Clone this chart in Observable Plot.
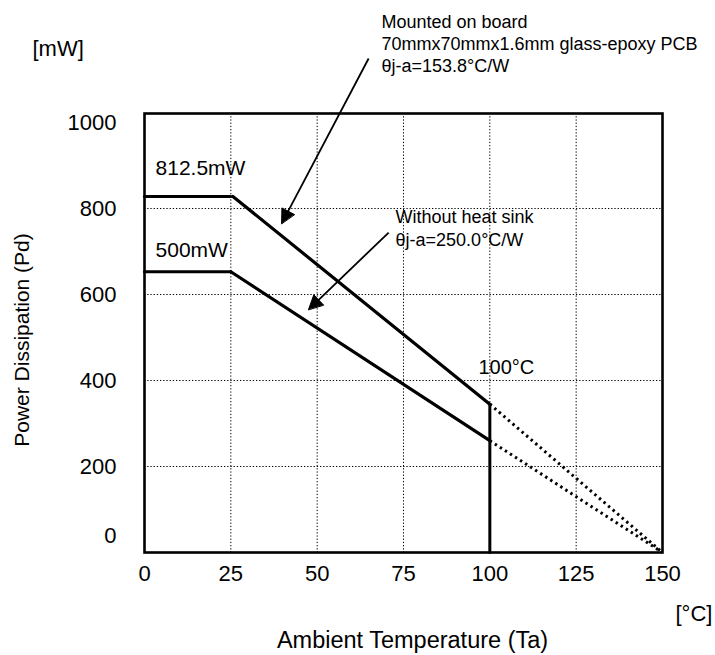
<!DOCTYPE html>
<html><head><meta charset="utf-8">
<script src="https://cdn.jsdelivr.net/npm/d3@7"></script>
<script src="https://cdn.jsdelivr.net/npm/@observablehq/plot@0.6"></script>
<style>body{margin:0;background:#fff}</style>
</head><body><div id="chart"></div>
<script>
// ---- data ----
const xTicks = [0, 25, 50, 75, 100, 125, 150];
const yTicks = [200, 400, 600, 800, 1000];
const yZeroTick = [0];
const gridX = [25, 50, 75, 100, 125];
const gridY = [200, 400, 600, 800];

// Mounted on board curve (solid + dotted extension)
const boardFlatTa = [0, 25];       const boardFlatPd = [828, 828];
const boardSlopeTa = [25.6, 100];  const boardSlopePd = [828, 345];
const boardDotTa = [100, 150];     const boardDotPd = [345, 0];
// Without heat sink curve
const bareFlatTa = [0, 25];        const bareFlatPd = [653, 653];
const bareSlopeTa = [25, 100];     const bareSlopePd = [653, 260];
const bareDotTa = [100, 150];      const bareDotPd = [260, 0];
// 100°C limit line
const limitTa = [100, 100];        const limitPd = [0, 345];

// annotation arrows: [x1, y1, x2(tip), y2(tip)]
const arrowBoard = [64.9, 1149, 39.7, 765];
const arrowBare = [70.7, 744, 47.5, 565];

// ---- layout ----
const W = 715, H = 655, mL = 144, mR = 53, mT = 113, mB = 103;
const xDomain = [0, 150], yDomain = [0, 1021];
const kx = (W - mL - mR) / (xDomain[1] - xDomain[0]);
const ky = (H - mT - mB) / (yDomain[1] - yDomain[0]);

const pts = (xs, ys) => xs.map((x, i) => ({x, y: ys[i]}));

function headPoly(a, len, wid, id) {
  const [x1, y1, x2, y2] = a;
  const dx = (x2 - x1) * kx, dy = -(y2 - y1) * ky;
  const d = Math.hypot(dx, dy), ux = dx / d, uy = dy / d;
  const bx = -ux * len, by = -uy * len, nx = -uy, ny = ux;
  const p = [[0, 0], [bx + nx * wid / 2, by + ny * wid / 2], [bx - nx * wid / 2, by - ny * wid / 2]];
  return p.map(([px, py]) => ({id, x: x2 + px / kx, y: y2 - py / ky}));
}
function shaft(a, len) {
  const [x1, y1, x2, y2] = a;
  const dx = (x2 - x1) * kx, dy = -(y2 - y1) * ky;
  const d = Math.hypot(dx, dy);
  const t = (d - len + 1) / d;
  return {x1, y1, x2: x1 + (x2 - x1) * t, y2: y1 + (y2 - y1) * t};
}
const HL = 14, HW = 14;
const heads = [...headPoly(arrowBoard, HL, HW, "a"), ...headPoly(arrowBare, HL, HW, "b")];
const shafts = [shaft(arrowBoard, HL), shaft(arrowBare, HL)];

const font = "'Liberation Sans', Arial, Helvetica, sans-serif";
const solid = {x: "x", y: "y", stroke: "black", strokeWidth: 3.2};
const dotted = {x: "x", y: "y", stroke: "black", strokeWidth: 3, strokeDasharray: "2.4,3.6", strokeLinecap: "butt"};
const grid = {stroke: "black", strokeWidth: 1, strokeDasharray: "1.3,1.9"};
const fmt = d => String(d);

const chart = Plot.plot({
  width: W, height: H,
  marginLeft: mL, marginRight: mR, marginTop: mT, marginBottom: mB,
  x: {domain: xDomain},
  y: {domain: yDomain},
  style: {fontFamily: font, background: "white", color: "black"},
  marks: [
    Plot.ruleX(gridX, grid),
    Plot.ruleY(gridY, grid),
    Plot.axisX(xTicks, {tickSize: 0, tickPadding: 13, fontSize: 22, label: null, tickFormat: fmt}),
    Plot.axisY(yTicks, {tickSize: 0, tickPadding: 28, fontSize: 22, label: null, tickFormat: fmt}),
    Plot.axisY(yZeroTick, {tickSize: 0, tickPadding: 28, fontSize: 22, label: null, dy: -17, tickFormat: fmt}),
    Plot.line(pts(boardFlatTa, boardFlatPd), solid),
    Plot.line(pts(boardSlopeTa, boardSlopePd), solid),
    Plot.line(pts(boardDotTa, boardDotPd), dotted),
    Plot.line(pts(bareFlatTa, bareFlatPd), solid),
    Plot.line(pts(bareSlopeTa, bareSlopePd), solid),
    Plot.line(pts(bareDotTa, bareDotPd), dotted),
    Plot.line(pts(limitTa, limitPd), {...solid, strokeWidth: 3}),
    Plot.frame({stroke: "black", strokeWidth: 2.6}),
    Plot.link(shafts, {x1: "x1", y1: "y1", x2: "x2", y2: "y2", stroke: "black", strokeWidth: 1.8}),
    Plot.line(heads, {x: "x", y: "y", z: "id", fill: "black", stroke: "black", strokeWidth: 1, curve: "linear-closed"}),
    // annotations
    Plot.text(["812.5mW"], {x: 3.2, y: 894, text: d => d, textAnchor: "start", fontSize: 21}),
    Plot.text(["500mW"], {x: 3.2, y: 703, text: d => d, textAnchor: "start", fontSize: 21}),
    Plot.text(["100°C"], {x: 96.7, y: 430, text: d => d, textAnchor: "start", fontSize: 20}),
    Plot.text(["Without heat sink\nθj-a=250.0°C/W"], {x: 72.7, y: 757, text: d => d, textAnchor: "start", fontSize: 18, lineHeight: 1.28}),
    Plot.text(["Mounted on board\n70mmx70mmx1.6mm glass-epoxy PCB\nθj-a=153.8°C/W"], {x: 68.6, y: 1186, text: d => d, textAnchor: "start", fontSize: 18, lineHeight: 1.22}),
    // axis titles & units
    Plot.text(["[mW]"], {frameAnchor: "top-left", dx: -112, dy: -65, text: d => d, textAnchor: "start", lineAnchor: "middle", fontSize: 22}),
    Plot.text(["[°C]"], {frameAnchor: "bottom-right", dx: 13, dy: 61, text: d => d, textAnchor: "start", lineAnchor: "middle", fontSize: 22}),
    Plot.text(["Ambient Temperature (Ta)"], {frameAnchor: "bottom", dx: 9, dy: 88, text: d => d, textAnchor: "middle", lineAnchor: "middle", fontSize: 23.5}),
    Plot.text(["Power Dissipation (Pd)"], {frameAnchor: "left", dx: -122, dy: 7, rotate: -90, text: d => d, textAnchor: "middle", lineAnchor: "middle", fontSize: 21})
  ]
});
document.getElementById("chart").appendChild(chart);
</script>
</body></html>
